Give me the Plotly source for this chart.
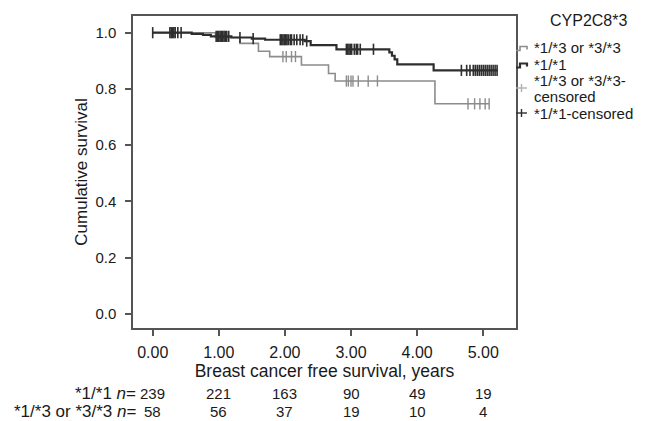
import plotly.graph_objects as go

# ---------------- data ----------------
# *1/*1 group: event times and survival after each event
t11_events = [0.59, 0.76, 0.88, 1.19, 1.50, 1.70, 2.30, 2.39, 2.78, 3.58, 3.62, 3.66, 3.70, 4.25]
s11_events = [0.996, 0.992, 0.987, 0.983, 0.979, 0.975, 0.970, 0.956, 0.941, 0.930, 0.918, 0.905, 0.887, 0.866]
t11_end = 5.22

# *1/*3 or *3/*3 group
t13_events = [0.95, 1.32, 1.60, 1.77, 2.25, 2.66, 2.76, 4.27]
s13_events = [0.983, 0.962, 0.934, 0.915, 0.885, 0.855, 0.828, 0.747]
t13_end = 5.09

# censored observations (time, survival level)
c11_t = [0.0, 0.26, 0.28, 0.30, 0.32, 0.34, 0.38, 0.43,
         0.96, 0.98, 1.00, 1.02, 1.04, 1.06, 1.08, 1.10, 1.12, 1.15,
         1.32, 1.52,
         1.93, 1.95, 1.97, 1.99, 2.01, 2.03, 2.05, 2.08, 2.10, 2.14, 2.18, 2.23, 2.27,
         2.33,
         2.93, 2.95, 2.97, 2.99, 3.01, 3.05, 3.08, 3.10, 3.14, 3.34,
         4.67, 4.75, 4.80, 4.85, 4.88, 4.91, 4.94, 4.97, 5.00, 5.03, 5.06, 5.09, 5.12,
         5.15, 5.18, 5.21]
c11_s = [1.0] * 8 + [0.987] * 10 + [0.983, 0.979] + [0.975] * 13 + [0.970] + \
        [0.941] * 10 + [0.866] * 16

c13_t = [1.97, 2.02, 2.10, 2.16,
         2.93, 2.96, 3.00, 3.03, 3.11, 3.26, 3.40,
         4.77, 4.87, 4.95, 5.03, 5.09]
c13_s = [0.915] * 4 + [0.828] * 7 + [0.747] * 5

x_ticks = [0, 1, 2, 3, 4, 5]
y_ticks = [0.0, 0.2, 0.4, 0.6, 0.8, 1.0]
risk_11 = [239, 221, 163, 90, 49, 19]
risk_13 = [58, 56, 37, 19, 10, 4]
risk_labels = ["*1/*1 <i>n</i>=", "*1/*3 or *3/*3 <i>n</i>="]

legend_title = "CYP2C8*3"
legend_labels = ["*1/*3 or *3/*3", "*1/*1", "*1/*3 or *3/*3-", "censored", "*1/*1-censored"]

# ---------------- style ----------------
DARK = "#2e2e2e"
GRAY = "#8c8c8c"
LIGHT = "#b0b0b0"
AXIS = "#555555"
TXT = "#1a1a1a"
FONT = "Liberation Sans, Arial, Helvetica, sans-serif"
FS = 15

OFF = 8                      # page body margin
PAGE_W, PAGE_H = 654, 421
W, H = PAGE_W - OFF, PAGE_H - OFF
L, R, T, B = 133, 516, 16, 328  # plot frame in page pixels


def px(xp):
    return (xp - L) / (R - L)


def py(yp):
    return (B - yp) / (B - T)


def step_xy(t_ev, s_ev, t_end):
    xs = [0.0] + list(t_ev) + [t_end]
    ys = [1.0] + list(s_ev) + [s_ev[-1]]
    return xs, ys


fig = go.Figure()

x13, y13 = step_xy(t13_events, s13_events, t13_end)
x11, y11 = step_xy(t11_events, s11_events, t11_end)

fig.add_trace(go.Scatter(x=x13, y=y13, mode="lines", line=dict(color=GRAY, width=1.6, shape="hv"),
                         name=legend_labels[0], hoverinfo="skip"))
fig.add_trace(go.Scatter(x=c13_t, y=c13_s, mode="markers",
                         marker=dict(symbol="line-ns-open", size=8, color=GRAY,
                                     line=dict(color=GRAY, width=1.4)),
                         name="*1/*3 or *3/*3-censored", hoverinfo="skip"))
fig.add_trace(go.Scatter(x=x11, y=y11, mode="lines", line=dict(color=DARK, width=2.2, shape="hv"),
                         name=legend_labels[1], hoverinfo="skip"))
fig.add_trace(go.Scatter(x=c11_t, y=c11_s, mode="markers",
                         marker=dict(symbol="line-ns-open", size=8, color=DARK,
                                     line=dict(color=DARK, width=1.6)),
                         name=legend_labels[4], hoverinfo="skip"))

x0 = (L - 152.7) / 66.1
x1 = (R - 152.7) / 66.1
y0 = (313.7 - B) / 281.0
y1 = (313.7 - T) / 281.0

fig.update_layout(
    width=W, height=H,
    margin=dict(l=L - OFF, r=W - (R - OFF), t=T - OFF, b=H - (B - OFF), autoexpand=False),
    paper_bgcolor="white", plot_bgcolor="white",
    font=dict(family=FONT, size=FS, color=TXT),
    showlegend=False,
    xaxis=dict(range=[x0, x1], tickvals=x_ticks, tickformat=".2f",
               showline=True, mirror=True, linecolor=AXIS, linewidth=1.5,
               ticks="outside", ticklen=6, tickwidth=1.5, tickcolor=AXIS,
               showgrid=False, zeroline=False, ticklabelstandoff=3,
               tickfont=dict(size=16),
               title=dict(text="Breast cancer free survival, years", standoff=5,
                          font=dict(size=17.5))),
    yaxis=dict(range=[y0, y1], tickvals=y_ticks, tickformat=".1f",
               showline=True, mirror=True, linecolor=AXIS, linewidth=1.5,
               ticks="outside", ticklen=6, tickwidth=1.5, tickcolor=AXIS,
               showgrid=False, zeroline=False, ticklabelstandoff=6,
               tickfont=dict(size=15),
               title=dict(text="Cumulative survival", standoff=3, font=dict(size=17))),
)

# number at risk table
ann = []
RY = [393, 411]
for xv, n1, n2 in zip(x_ticks, risk_11, risk_13):
    for n, yy in [(n1, RY[0]), (n2, RY[1])]:
        ann.append(dict(x=xv, y=py(yy), xref="x", yref="paper", text=str(n), showarrow=False,
                        xanchor="center", yanchor="middle", font=dict(size=15)))
for lab, yy in zip(risk_labels, RY):
    ann.append(dict(x=px(138), y=py(yy), xref="paper", yref="paper", text=lab,
                    showarrow=False, xanchor="right", yanchor="middle", font=dict(size=17)))

# legend (manual)
LX = px(532)
ann.append(dict(x=px(548), y=py(20.5), xref="paper", yref="paper", text=legend_title,
                showarrow=False, xanchor="left", yanchor="middle", font=dict(size=16)))
leg_y = [47.5, 64, 80.5, 97, 113.5]
for lab, yy in zip(legend_labels, leg_y):
    ann.append(dict(x=LX, y=py(yy), xref="paper", yref="paper", text=lab, showarrow=False,
                    xanchor="left", yanchor="middle", align="left", font=dict(size=15)))
fig.update_layout(annotations=ann)


def pth(points):
    return "M " + " L ".join(f"{px(a):.5f},{py(b):.5f}" for a, b in points)


shapes = []
# step icons
shapes.append(dict(type="path", xref="paper", yref="paper",
                   path=pth([(516, 50.5), (520, 50.5), (520, 46.5), (527, 46.5), (527, 49.5)]),
                   line=dict(color=GRAY, width=1.6)))
shapes.append(dict(type="path", xref="paper", yref="paper",
                   path=pth([(516, 67.5), (520, 67.5), (520, 63.5), (527, 63.5), (527, 66.5)]),
                   line=dict(color=DARK, width=2.2)))
# censored icons
for yy, col in [(88, LIGHT), (113, DARK)]:
    shapes.append(dict(type="line", xref="paper", yref="paper", x0=px(516), x1=px(527),
                       y0=py(yy), y1=py(yy), line=dict(color=col, width=1.4)))
    shapes.append(dict(type="line", xref="paper", yref="paper", x0=px(521.5), x1=px(521.5),
                       y0=py(yy - 4), y1=py(yy + 4), line=dict(color=col, width=1.4)))
fig.update_layout(shapes=shapes)

fig.write_html("out.html")
